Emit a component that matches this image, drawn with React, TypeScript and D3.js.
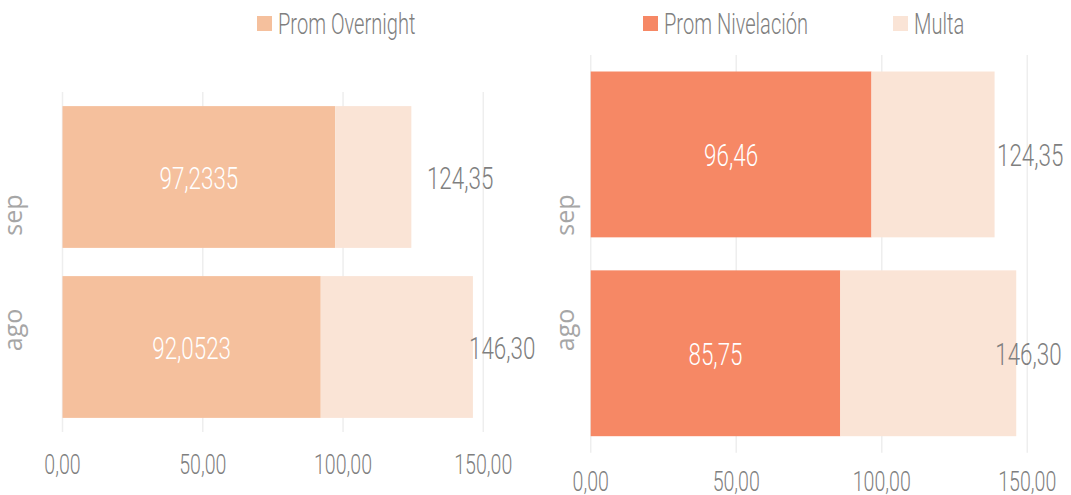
import React from "react";
import * as d3 from "d3";

const CATEGORIES = ["sep", "ago"];
const X_TICKS = [0, 50, 100, 150];

// panel izquierdo
const OVERNIGHT = [97.2335, 92.0523];
const MULTA_LEFT = [27.1165, 54.2477];
// panel derecho
const NIVELACION = [96.46, 85.75];
const MULTA_RIGHT = [42.3, 60.45];

const TOTAL_LABELS = ["124,35", "146,30"];
const TOTAL_AT_LEFT = [129.9, 144.9];
const TOTAL_AT_RIGHT = [139.6, 139.0];

const C_OVERNIGHT = "#F5C09D";
const C_NIVELACION = "#F68865";
const C_MULTA = "#FAE4D6";
const GRAY = "#7F7F7F";

const locale = d3.formatLocale({ decimal: ",", thousands: ".", grouping: [3], currency: ["", ""] });
const f2 = locale.format(".2f");
const f4 = locale.format(".4f");

const NARROW = "Roboto, 'DejaVu Sans', sans-serif";
const SX = 0.7;

function Narrow({ x, y, size, fill, anchor = "start", sx = SX, weight = 300, children }: any) {
  return (
    <text
      transform={`translate(${x},${y}) scale(${sx},1)`}
      textAnchor={anchor}
      dominantBaseline="central"
      fontFamily={NARROW}
      fontWeight={weight}
      fontSize={size}
      fill={fill}
    >
      {children}
    </text>
  );
}

function Panel({ xRange, yRange, main, multa, mainColor, fmt, totalAt, catX, tickY }: any) {
  const x = d3.scaleLinear().domain([0, 150]).range(xRange);
  const y = d3.scaleBand().domain(CATEGORIES).range(yRange).paddingInner(0.166).paddingOuter(0.083);
  const catY = d3.scalePoint().domain(CATEGORIES).range([215, 330]);
  const bw = y.bandwidth();
  return (
    <g>
      {X_TICKS.map((t) => (
        <line key={t} x1={x(t)} x2={x(t)} y1={yRange[0]} y2={yRange[1]} stroke="#EEEEEE" strokeWidth={1.5} />
      ))}
      {CATEGORIES.map((c, i) => {
        const y0 = y(c)!;
        return (
          <g key={c}>
            <rect x={x(0)} y={y0} width={x(main[i]) - x(0)} height={bw} fill={mainColor} />
            <rect x={x(main[i])} y={y0} width={x(main[i] + multa[i]) - x(main[i])} height={bw} fill={C_MULTA} />
            <Narrow x={(x(0) + x(main[i])) / 2} y={y0 + bw / 2 + 1} size={32} fill="#FFFFFF" anchor="middle">
              {fmt(main[i])}
            </Narrow>
            <Narrow x={x(totalAt[i])} y={y0 + bw / 2 + 1} size={32} fill={GRAY}>
              {TOTAL_LABELS[i]}
            </Narrow>
            <text
              transform={`translate(${catX},${catY(c)}) rotate(-90)`}
              textAnchor="middle"
              fontFamily="'Open Sans', sans-serif"
              fontSize={25}
              fill="#A6A6A6"
            >
              {c}
            </text>
          </g>
        );
      })}
      {X_TICKS.map((t) => (
        <Narrow key={t} x={x(t)} y={tickY} size={28} fill={GRAY} anchor="middle">
          {f2(t)}
        </Narrow>
      ))}
    </g>
  );
}

function LegendItem({ x, color, label }: any) {
  return (
    <g>
      <rect x={x} y={16} width={15} height={15} fill={color} />
      <Narrow x={x + 21} y={23} size={30} fill={GRAY} sx={0.67}>
        {label}
      </Narrow>
    </g>
  );
}

export default function App() {
  return (
    <svg
      width={1071}
      height={495}
      style={{ position: "absolute", left: 0, top: 0, background: "#fff" }}
    >
      <LegendItem x={257} color={C_OVERNIGHT} label="Prom Overnight" />
      <LegendItem x={643} color={C_NIVELACION} label="Prom Nivelación" />
      <LegendItem x={893} color={C_MULTA} label="Multa" />
      <Panel
        xRange={[62.5, 483.3]}
        yRange={[92, 432]}
        main={OVERNIGHT}
        multa={MULTA_LEFT}
        mainColor={C_OVERNIGHT}
        fmt={f4}
        totalAt={TOTAL_AT_LEFT}
        catX={22}
        tickY={465}
      />
      <Panel
        xRange={[590.7, 1027.3]}
        yRange={[55, 452.7]}
        main={NIVELACION}
        multa={MULTA_RIGHT}
        mainColor={C_NIVELACION}
        fmt={f2}
        totalAt={TOTAL_AT_RIGHT}
        catX={574}
        tickY={481.7}
      />
    </svg>
  );
}
